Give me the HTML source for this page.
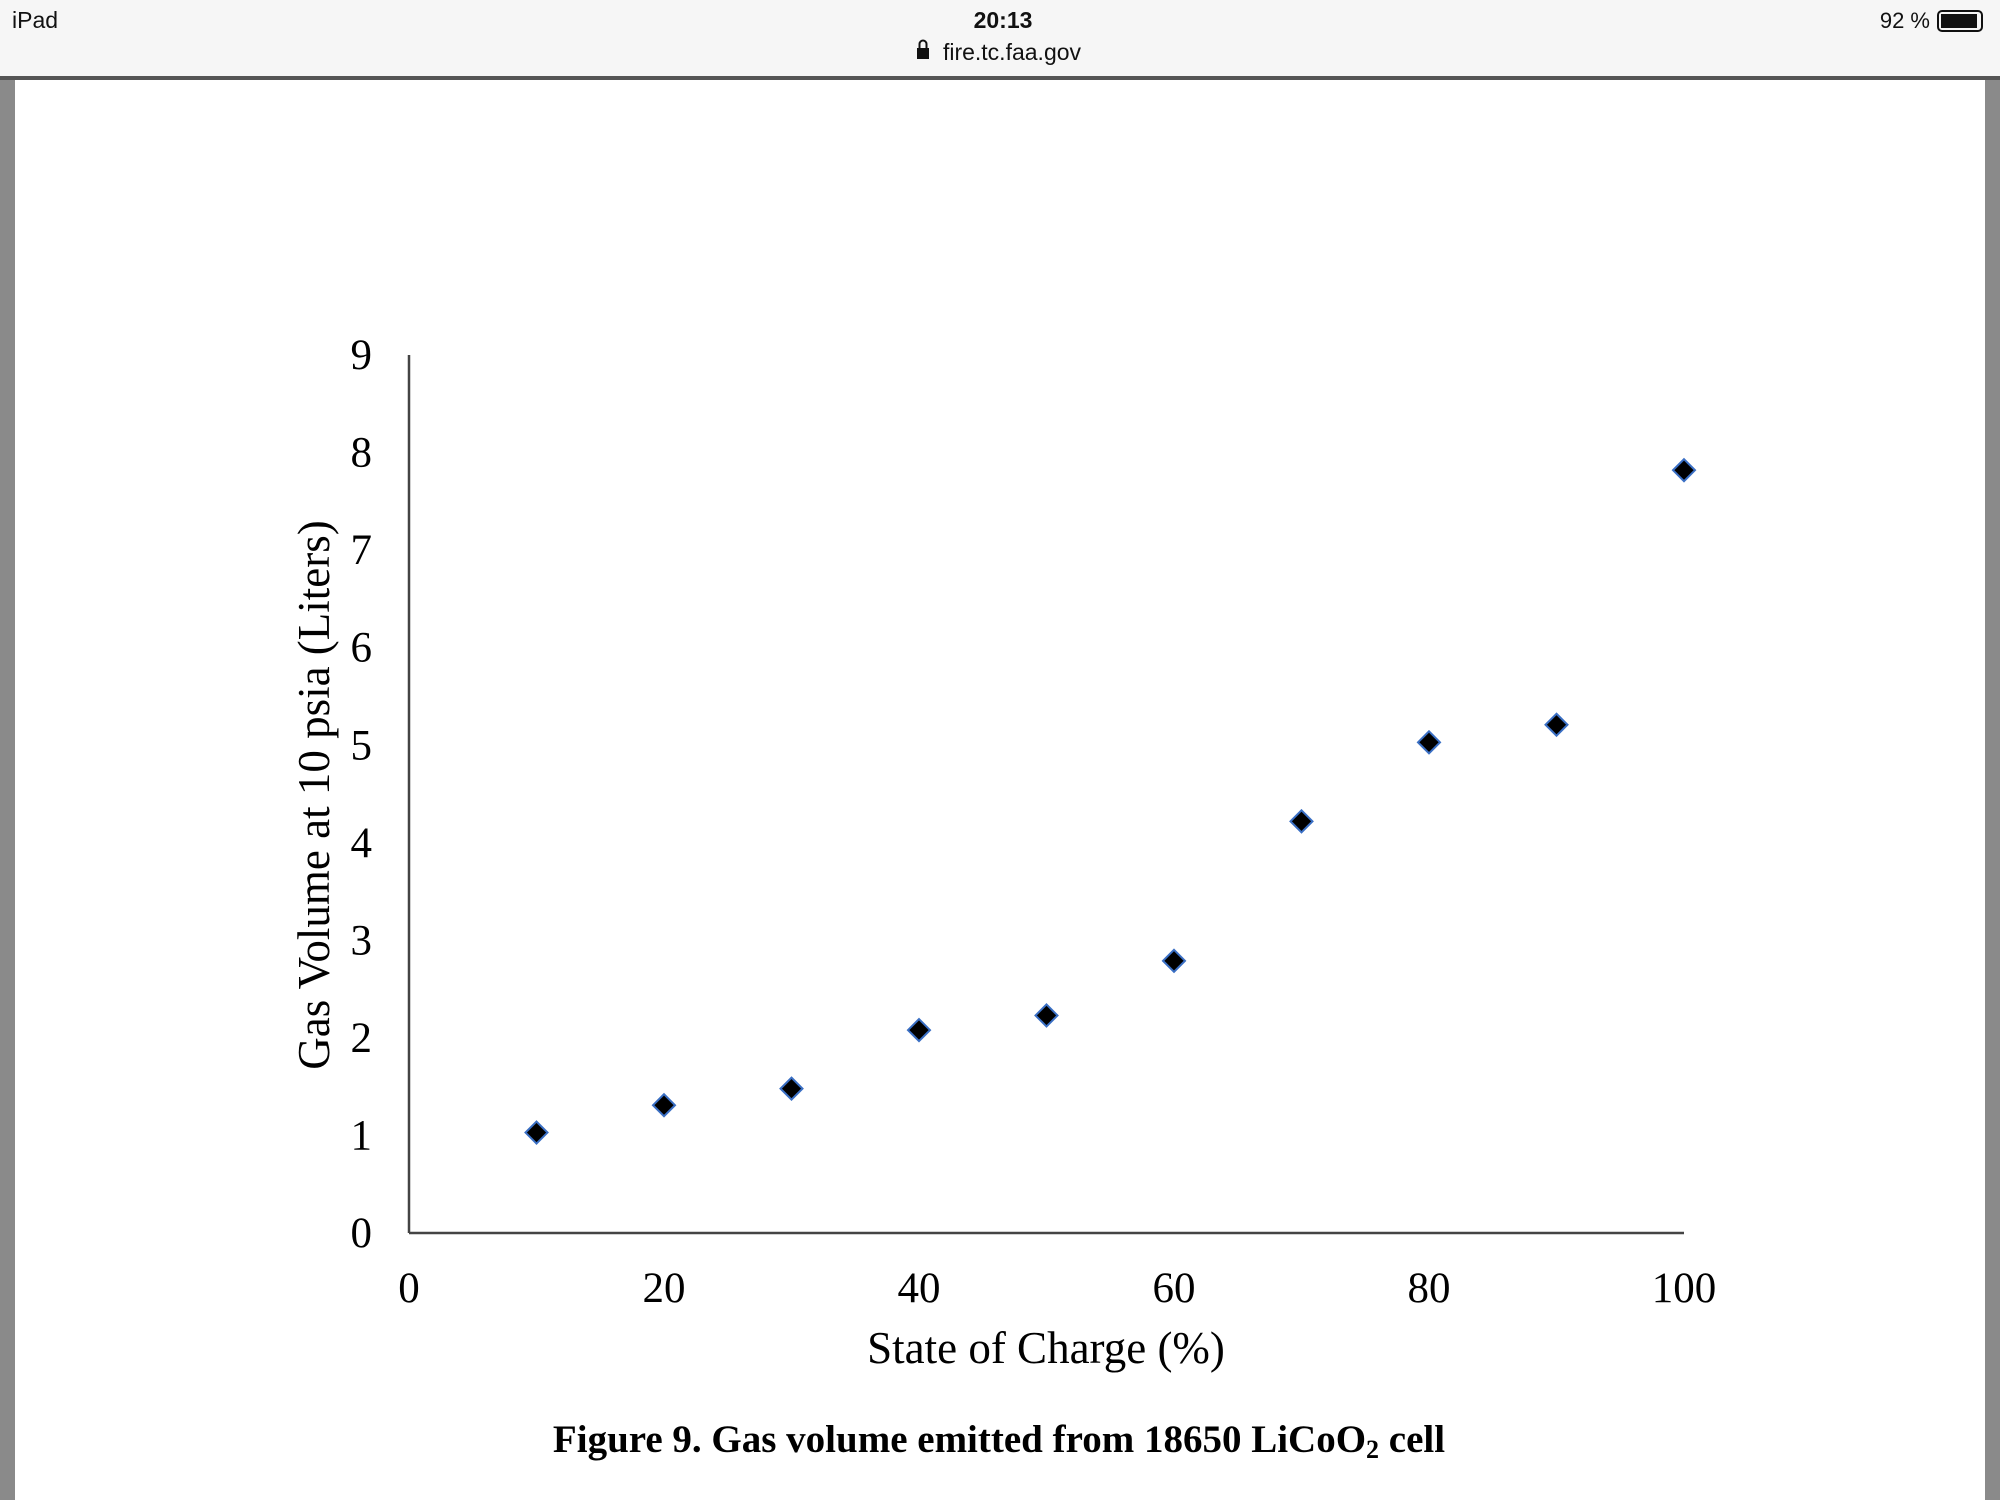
<!DOCTYPE html>
<html><head><meta charset="utf-8"><style>
body{margin:0;width:2000px;height:1500px;overflow:hidden;background:#fff;font-family:"Liberation Sans",sans-serif}
</style></head><body>
<svg width="2000" height="1500" xmlns="http://www.w3.org/2000/svg">
<rect x="0" y="0" width="2000" height="78" fill="#f6f6f6"/>
<text x="12" y="28" font-size="23" fill="#111">iPad</text>
<text x="1003" y="28" font-size="23" font-weight="bold" text-anchor="middle" fill="#111">20:13</text>
<g>
<rect x="917" y="48" width="12" height="11" fill="#111"/>
<path d="M919.5 48 v-4 a3.5 3.5 0 0 1 7 0 v4" fill="none" stroke="#111" stroke-width="2"/>
</g>
<text x="1012" y="60" font-size="23" text-anchor="middle" fill="#111">fire.tc.faa.gov</text>
<text x="1930" y="28" font-size="22" text-anchor="end" fill="#111">92 %</text>
<rect x="1938" y="11" width="44" height="20" rx="4" fill="none" stroke="#111" stroke-width="2"/>
<rect x="1941" y="14" width="36" height="14" fill="#111"/>
<rect x="0" y="76" width="2000" height="4" fill="#555"/>
<rect x="0" y="80" width="15" height="1420" fill="#8a8a8a"/>
<rect x="1985" y="80" width="15" height="1420" fill="#8a8a8a"/>
<g id="chart" font-family="'Liberation Serif',serif" fill="#000"></g>
</svg>
<script>
const xValues=[10,20,30,40,50,60,70,80,90,100];
const yValues=[1.03,1.31,1.48,2.08,2.23,2.79,4.22,5.03,5.21,7.82];
const xTicks=[0,20,40,60,80,100];
const yTicks=[0,1,2,3,4,5,6,7,8,9];
const NS="http://www.w3.org/2000/svg";
const g=document.getElementById('chart');
const X=v=>409+v*12.75;
const Y=v=>1233-v*97.55;
function el(t,a,txt){const e=document.createElementNS(NS,t);for(const k in a)e.setAttribute(k,a[k]);if(txt!==undefined)e.textContent=txt;g.appendChild(e);return e;}
let e;
e=el('line',{x1:X(0),y1:Y(9),x2:X(0),y2:Y(0),stroke:'#444','stroke-width':2.5});


e=el('line',{x1:X(0),y1:Y(0),x2:X(100),y2:Y(0),stroke:'#444','stroke-width':2.5});


yTicks.forEach(v=>{
 e=el('text',{x:372,y:Y(v)+14,'font-size':43,'text-anchor':'end'},String(v));
 
 
});
xTicks.forEach(v=>{
 e=el('text',{x:X(v),y:1302,'font-size':43,'text-anchor':'middle'},String(v));
 
 
});
xValues.forEach((xv,i)=>{
 const cx=X(xv),cy=Y(yValues[i]),r=11;
 e=el('polygon',{points:`${cx},${cy-r} ${cx+r},${cy} ${cx},${cy+r} ${cx-r},${cy}`,fill:'#000',stroke:'#3a6fc4','stroke-width':2});
 
 
});
e=el('text',{x:1046,y:1363,'font-size':45,'text-anchor':'middle'},'State of Charge (%)');


e=el('text',{x:0,y:0,'font-size':45,'text-anchor':'middle',transform:'translate(329,795) rotate(-90)'},'Gas Volume at 10 psia (Liters)');


e=el('text',{x:999,y:1452,'font-size':39,'font-weight':'bold','text-anchor':'middle'});
e.innerHTML='Figure 9. Gas volume emitted from 18650 LiCoO<tspan font-size="26" dy="6">2</tspan><tspan dy="-6"> cell</tspan>';


</script>
</body></html>
